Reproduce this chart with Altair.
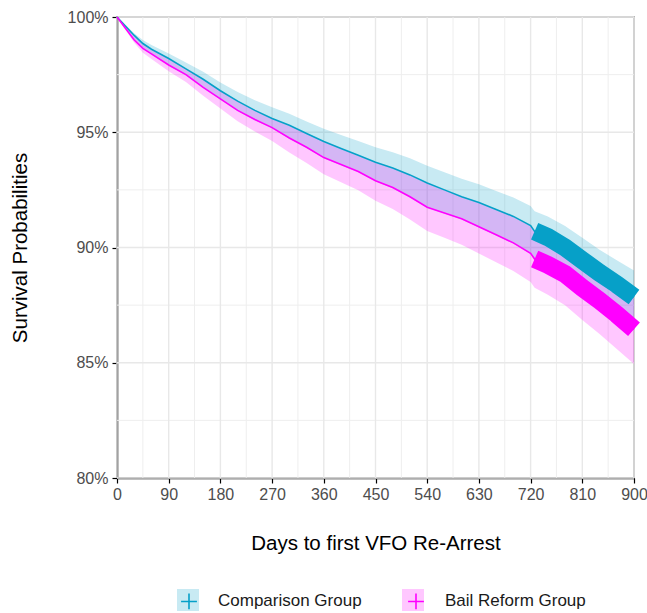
import altair as alt
import pandas as pd

# ---- data ----
days = [0, 15, 30, 45, 60, 90, 120, 150, 180, 210, 240, 270, 300, 330, 360, 390, 420,
        450, 480, 510, 540, 570, 600, 630, 660, 690, 720, 727, 750, 780, 810, 840, 870, 900]

comp_surv = [100, 99.6, 99.2, 98.85, 98.6, 98.2, 97.75, 97.3, 96.8, 96.35, 95.95, 95.6, 95.3,
             94.95, 94.6, 94.3, 94.0, 93.7, 93.45, 93.15, 92.8, 92.5, 92.2, 91.95, 91.65, 91.35,
             90.95, 90.7, 90.45, 90.0, 89.45, 88.9, 88.4, 87.85]
comp_upper = [100, 99.65, 99.3, 99.0, 98.78, 98.42, 98.03, 97.62, 97.16, 96.75, 96.39, 96.08,
              95.8, 95.47, 95.15, 94.88, 94.62, 94.35, 94.13, 93.87, 93.55, 93.27, 92.98, 92.74,
              92.45, 92.17, 91.8, 91.57, 91.35, 90.93, 90.42, 89.9, 89.45, 89.0]
comp_lower = [100, 99.5, 99.0, 98.62, 98.38, 97.9, 97.47, 96.93, 96.42, 95.92, 95.52, 95.17,
              94.72, 94.32, 93.87, 93.57, 93.27, 92.87, 92.57, 92.17, 91.72, 91.47, 91.22, 90.87,
              90.52, 90.17, 89.72, 89.47, 89.22, 88.82, 88.22, 87.67, 87.07, 86.42]

bail_surv = [100, 99.5, 99.0, 98.64, 98.4, 97.92, 97.5, 96.95, 96.45, 95.95, 95.55, 95.2, 94.75,
             94.35, 93.9, 93.6, 93.3, 92.9, 92.6, 92.2, 91.75, 91.5, 91.25, 90.9, 90.55, 90.2,
             89.75, 89.5, 89.25, 88.85, 88.25, 87.7, 87.1, 86.45]
bail_upper = [100, 99.58, 99.18, 98.83, 98.58, 98.18, 97.73, 97.28, 96.78, 96.33, 95.93, 95.58,
              95.28, 94.93, 94.58, 94.28, 93.98, 93.68, 93.43, 93.13, 92.78, 92.48, 92.18, 91.93,
              91.63, 91.33, 90.93, 90.68, 90.43, 89.98, 89.43, 88.88, 88.38, 87.83]
bail_lower = [100, 99.43, 98.88, 98.45, 98.18, 97.65, 97.18, 96.58, 96.03, 95.48, 95.03, 94.62,
              94.12, 93.67, 93.18, 92.83, 92.48, 92.03, 91.67, 91.22, 90.72, 90.42, 90.12, 89.74,
              89.36, 88.98, 88.5, 88.25, 87.95, 87.5, 86.85, 86.25, 85.6, 84.95]

censor_start = 727  # day from which the dense censoring marks begin

groups = ["Comparison Group", "Bail Reform Group"]

x_ticks = [0, 90, 180, 270, 360, 450, 540, 630, 720, 810, 900]
x_minor = [45, 135, 225, 315, 405, 495, 585, 675, 765, 855]
y_ticks = [80, 85, 90, 95, 100]
y_minor = [82.5, 87.5, 92.5, 97.5]

# ---- styles ----
line_colors = ["#06A0C8", "#FF00FF"]
FONT = "Liberation Sans"

rows = []
for g, s, lo, hi in [(groups[0], comp_surv, comp_lower, comp_upper),
                     (groups[1], bail_surv, bail_lower, bail_upper)]:
    for d, v, l, h in zip(days, s, lo, hi):
        rows.append({"day": d, "surv": v, "lower": l, "upper": h, "group": g, "grp": g})
df = pd.DataFrame(rows)

x_scale = alt.Scale(domain=[0, 900], nice=False, zero=False)
y_scale = alt.Scale(domain=[80, 100], nice=False, zero=False)

xaxis = alt.Axis(values=x_ticks, title="Days to first VFO Re-Arrest", grid=False,
                 labelFlush=False, labelOverlap=False, tickSize=5, labelPadding=3,
                 titleY=71, titleBaseline="alphabetic")
yaxis = alt.Axis(values=y_ticks, labelExpr="datum.value + '%'", title="Survival Probabilities",
                 grid=False, tickSize=5, labelPadding=4, labelOverlap=False, labelFlush=False,
                 titleX=-91, titleY=230.5, titleAngle=270, titleBaseline="alphabetic",
                 titleAlign="center")

X = lambda f: alt.X(f, scale=x_scale, axis=xaxis)
Y = lambda f: alt.Y(f, scale=y_scale, axis=yaxis)

grid_xmaj = alt.Chart(pd.DataFrame({"day": x_ticks})).mark_rule(
    color="#E8E8E8", strokeWidth=1.4).encode(x=X("day:Q"))
grid_xmin = alt.Chart(pd.DataFrame({"day": x_minor})).mark_rule(
    color="#EEEEEE", strokeWidth=1.0).encode(x=X("day:Q"))
grid_ymaj = alt.Chart(pd.DataFrame({"surv": y_ticks})).mark_rule(
    color="#E8E8E8", strokeWidth=1.4).encode(y=Y("surv:Q"))
grid_ymin = alt.Chart(pd.DataFrame({"surv": y_minor})).mark_rule(
    color="#EEEEEE", strokeWidth=1.0).encode(y=Y("surv:Q"))

legend_common = dict(orient="none", legendX=60, legendY=572, direction="horizontal",
                     title=None, symbolSize=484, labelFont=FONT, labelFontSize=17,
                     labelColor="#1A1A1A", padding=0)

# background squares of the legend keys (no label text; spacing matches the cross legend)
ribbon = alt.Chart(df).mark_area(opacity=0.22).encode(
    x=X("day:Q"), y=Y("lower:Q"), y2="upper:Q",
    fill=alt.Fill("group:N", scale=alt.Scale(domain=groups, range=line_colors),
                  legend=alt.Legend(symbolType="square", symbolOpacity=0.22,
                                    symbolStrokeWidth=0, labelExpr="''",
                                    labelOffset=17, columnPadding=186, **legend_common)),
)

lines = alt.Chart(df).mark_line(strokeWidth=1.6).encode(
    x=X("day:Q"), y=Y("surv:Q"),
    stroke=alt.Stroke("grp:N", sort=groups, scale=alt.Scale(range=line_colors),
                      legend=alt.Legend(symbolType="M-0.72,0H0.72M0,-0.72V0.72",
                                        symbolStrokeWidth=1.6, labelOffset=17,
                                        columnPadding=42, **legend_common)),
)

censor_layers = []
for g, c in zip(groups, line_colors):
    censor_layers.append(
        alt.Chart(df).transform_filter(
            (alt.datum.group == g) & (alt.datum.day >= censor_start)
        ).mark_line(strokeWidth=18, strokeCap="butt", color=c).encode(
            x=X("day:Q"), y=Y("surv:Q"))
    )

chart = alt.layer(grid_xmin, grid_ymin, grid_xmaj, grid_ymaj, ribbon, lines, *censor_layers).properties(
    width=517, height=461,
    padding={"left": 117, "top": 17, "right": 13, "bottom": 135},
    autosize=alt.AutoSizeParams(type="none"),
).configure(font=FONT).configure_view(
    stroke="#808080", strokeWidth=1.5
).configure_axis(
    labelFont=FONT, labelFontSize=16, labelColor="#4D4D4D",
    titleFont=FONT, titleFontSize=20.5, titleFontWeight="normal", titleColor="#000000",
    domainColor="#000000", domainWidth=1.5, tickColor="#000000", tickWidth=1.2,
)

chart.save("out.html", embed_options={"renderer": "svg", "actions": False})
